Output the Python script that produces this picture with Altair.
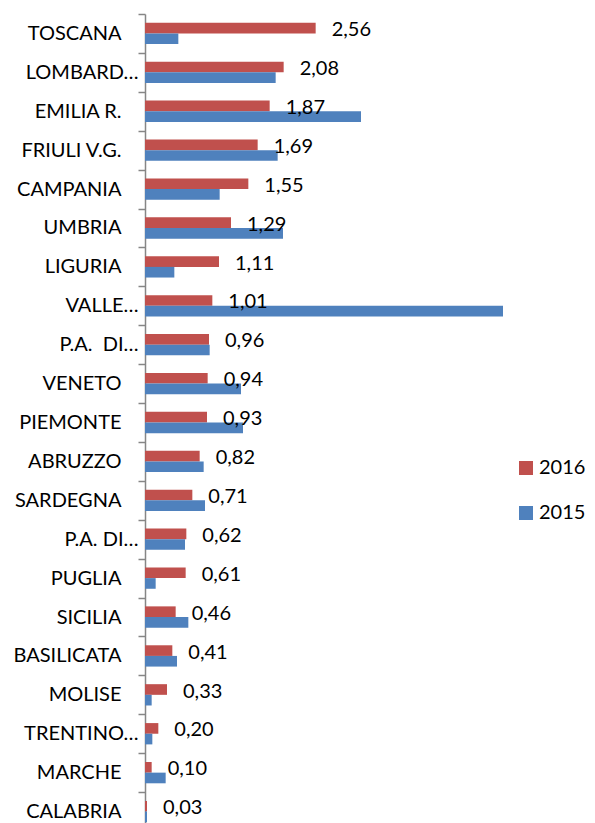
import altair as alt
import pandas as pd

regions = ["TOSCANA", "LOMBARD…", "EMILIA R.", "FRIULI V.G.", "CAMPANIA", "UMBRIA",
           "LIGURIA", "VALLE…", "P.A.\u00a0 DI…", "VENETO", "PIEMONTE", "ABRUZZO",
           "SARDEGNA", "P.A. DI…", "PUGLIA", "SICILIA", "BASILICATA", "MOLISE",
           "TRENTINO…", "MARCHE", "CALABRIA"]
v2016 = [2.56, 2.08, 1.87, 1.69, 1.55, 1.29, 1.11, 1.01, 0.96, 0.94, 0.93, 0.82,
         0.71, 0.62, 0.61, 0.46, 0.41, 0.33, 0.20, 0.10, 0.03]
v2015 = [0.50, 1.96, 3.24, 1.99, 1.12, 2.07, 0.44, 5.37, 0.97, 1.44, 1.47, 0.88,
         0.90, 0.60, 0.16, 0.65, 0.48, 0.10, 0.11, 0.31, 0.03]
years = ["2016", "2015"]
colors = ["#C0504D", "#4F81BD"]

rows = []
for r, a, b in zip(regions, v2016, v2015):
    rows.append({"region": r, "year": "2016", "value": a})
    rows.append({"region": r, "year": "2015", "value": b})
df = pd.DataFrame(rows)

FONT = "Lato"
FS = 20

y_enc = alt.Y("region:N", sort=regions, title=None,
              scale=alt.Scale(paddingInner=0, paddingOuter=0),
              axis=alt.Axis(tickBand="extent", domainColor="#868686", domainWidth=1.5,
                            tickColor="#868686", tickWidth=1.5, tickSize=7,
                            labelFont=FONT, labelFontSize=FS, labelColor="black",
                            labelLimit=200,
                            labelPadding={"condition": {"test": "indexof(datum.label, '…') >= 0", "value": 0},
                                          "value": 17}))
yoff = alt.YOffset("year:N", sort=years, scale=alt.Scale(paddingOuter=0.826, paddingInner=0))
x_enc = alt.X("value:Q", axis=None, scale=alt.Scale(domain=[0, 5.4], nice=False, zero=True))

bars = alt.Chart(df).mark_bar().encode(
    x=x_enc, y=y_enc, yOffset=yoff,
    color=alt.Color("year:N", sort=years,
                    scale=alt.Scale(domain=years, range=colors),
                    legend=alt.Legend(title=None, orient="none", legendX=371, legendY=444,
                                      symbolType="square", symbolSize=196, symbolStrokeWidth=0,
                                      labelFont=FONT, labelFontSize=FS, labelColor="black",
                                      rowPadding=25, padding=0, labelOffset=3))
)

labels = alt.Chart(df).transform_filter(
    alt.datum.year == "2016"
).transform_calculate(
    lab="replace(format(datum.value, '.2f'), '.', ',')"
).mark_text(align="left", baseline="middle", dx=16, dy=2, font=FONT, fontSize=FS, color="black").encode(
    x=x_enc, y=y_enc, yOffset=yoff, text="lab:N"
)

chart = alt.layer(bars, labels).properties(
    width=360, height=817,
    autosize=alt.AutoSizeParams(type="none"),
    padding={"left": 137, "top": 6, "right": 82, "bottom": 0}
).configure_view(stroke=None)

chart.save("out.html", embed_options={"renderer": "svg", "actions": False})
